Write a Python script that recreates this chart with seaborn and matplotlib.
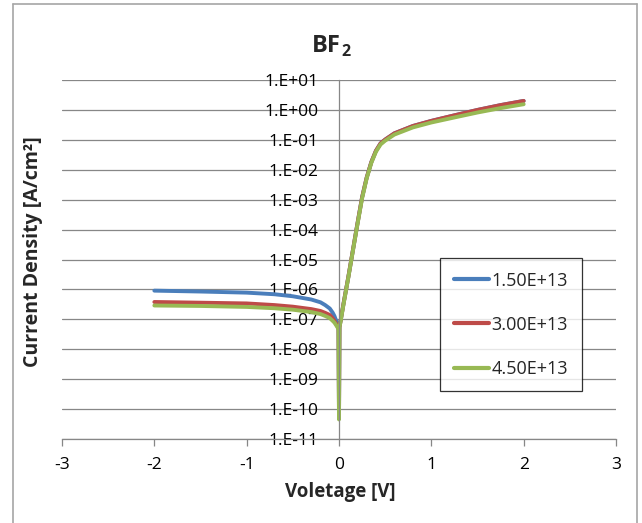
import matplotlib
matplotlib.use("Agg")
import matplotlib.pyplot as plt
import seaborn as sns
import pandas as pd
from matplotlib.ticker import FixedLocator, FixedFormatter, NullLocator
from matplotlib.lines import Line2D

# ---------------- data ----------------
voltage = [-2.0, -1.5, -1.0, -0.7, -0.5, -0.3, -0.2, -0.15, -0.1, -0.07, -0.05, -0.03, -0.015, -0.005,
           0.0, 0.005, 0.02, 0.05, 0.1, 0.15, 0.2, 0.25, 0.3, 0.35, 0.4, 0.45,
           0.5, 0.6, 0.8, 1.0, 1.25, 1.5, 1.75, 2.0]

j_150 = [9.1e-7, 8.5e-7, 7.8e-7, 6.9e-7, 5.9e-7, 4.6e-7, 3.7e-7, 3.0e-7, 2.3e-7, 1.7e-7, 1.3e-7, 9.0e-8, 6.5e-8, 5.0e-8,
         5.0e-11, 5.5e-8, 1.0e-7, 3.5e-7, 2.5e-6, 2.0e-5, 1.6e-4, 1.2e-3, 5.5e-3, 1.8e-2, 4.3e-2, 7.6e-2,
         1.02e-1, 1.65e-1, 2.9e-1, 4.3e-1, 6.6e-1, 1.0, 1.45, 2.0]

j_300 = [3.8e-7, 3.6e-7, 3.4e-7, 3.0e-7, 2.65e-7, 2.2e-7, 1.9e-7, 1.65e-7, 1.4e-7, 1.1e-7, 9.0e-8, 7.0e-8, 5.8e-8, 4.8e-8,
         5.0e-11, 5.5e-8, 1.0e-7, 3.5e-7, 2.5e-6, 2.0e-5, 1.6e-4, 1.2e-3, 5.5e-3, 1.8e-2, 4.3e-2, 7.6e-2,
         1.02e-1, 1.65e-1, 2.9e-1, 4.3e-1, 6.6e-1, 1.0, 1.45, 2.0]

j_450 = [2.9e-7, 2.8e-7, 2.6e-7, 2.35e-7, 2.1e-7, 1.75e-7, 1.5e-7, 1.3e-7, 1.1e-7, 9.0e-8, 7.8e-8, 6.3e-8, 5.3e-8, 4.5e-8,
         4.5e-11, 5.3e-8, 9.5e-8, 3.3e-7, 2.4e-6, 1.9e-5, 1.5e-4, 1.1e-3, 5.2e-3, 1.7e-2, 4.0e-2, 7.0e-2,
         9.4e-2, 1.5e-1, 2.6e-1, 3.8e-1, 5.6e-1, 0.82, 1.15, 1.55]

doses = ["1.50E+13", "3.00E+13", "4.50E+13"]
colors = ["#4A7EBB", "#BE4B48", "#98B954"]

y_ticks = [1e1, 1e0, 1e-1, 1e-2, 1e-3, 1e-4, 1e-5, 1e-6, 1e-7, 1e-8, 1e-9, 1e-10, 1e-11]
y_tick_labels = ["1.E+01", "1.E+00", "1.E-01", "1.E-02", "1.E-03", "1.E-04", "1.E-05",
                 "1.E-06", "1.E-07", "1.E-08", "1.E-09", "1.E-10", "1.E-11"]
x_ticks = [-3, -2, -1, 0, 1, 2, 3]
x_tick_labels = ["-3", "-2", "-1", "0", "1", "2", "3"]

# ---------------- build frame ----------------
frames = []
for name, vals in zip(doses, [j_150, j_300, j_450]):
    frames.append(pd.DataFrame({"V": voltage, "J": vals, "dose": name}))
df = pd.concat(frames, ignore_index=True)

sns.set_style("white")
plt.rcParams["font.family"] = ["Open Sans", "DejaVu Sans"]

W, H = 642, 523
fig = plt.figure(figsize=(W / 100, H / 100), dpi=100)
left, right, top, bottom = 62, 616, 80, 439
ax = fig.add_axes([left / W, 1 - bottom / H, (right - left) / W, (bottom - top) / H])

sns.lineplot(data=df, x="V", y="J", hue="dose", palette=colors, hue_order=doses,
             sort=False, estimator=None, linewidth=2.8, ax=ax, legend=True)

ax.set_yscale("log")
ax.set_xlim(-3, 3)
ax.set_ylim(1e-11, 1e1)

grid_c = "#878787"
ax.yaxis.set_major_locator(FixedLocator(y_ticks))
ax.yaxis.set_major_formatter(FixedFormatter(y_tick_labels))
ax.yaxis.set_minor_locator(NullLocator())
ax.xaxis.set_major_locator(FixedLocator(x_ticks))
ax.xaxis.set_major_formatter(FixedFormatter(x_tick_labels))
ax.grid(axis="y", color=grid_c, linewidth=0.9)
ax.grid(axis="x", visible=False)
ax.set_axisbelow(True)

for s in ["top", "right"]:
    ax.spines[s].set_visible(False)
ax.spines["left"].set_position(("data", 0))
ax.spines["left"].set_color(grid_c)
ax.spines["left"].set_linewidth(0.9)
ax.spines["bottom"].set_color(grid_c)
ax.spines["bottom"].set_linewidth(0.9)

ax.tick_params(axis="y", length=0, pad=15, labelsize=12.5, labelcolor="black")
ax.tick_params(axis="x", direction="out", length=5, width=0.9, color=grid_c,
               pad=8, labelsize=12.5, labelcolor="black", bottom=True)

ax.set_xlabel("Voletage [V]", fontsize=13.5, fontweight="bold", va="center")
ax.xaxis.set_label_coords((340 - left) / (right - left), -(492 - bottom) / (bottom - top))
ax.set_ylabel("Current Density [A/cm²]", fontsize=14, fontweight="bold", va="center")
ax.yaxis.set_label_coords(-(left - 33) / (right - left), 1 - (252 - top) / (bottom - top))

# title: "BF" with subscript "2"
fig.text(341 / W, 1 - 46 / H, "BF", fontsize=17, fontweight="bold", ha="right", va="center")
fig.text(341.5 / W, 1 - 52 / H, "2", fontsize=11.5, fontweight="bold", ha="left", va="center")

leg = ax.legend(loc="upper left", bbox_to_anchor=(440 / W, 1 - 258 / H),
                bbox_transform=fig.transFigure, frameon=True, fancybox=False,
                fontsize=13, handlelength=1.95, handletextpad=0.15,
                labelspacing=1.45, borderpad=0.75, borderaxespad=0)
leg.get_frame().set_edgecolor("black")
leg.get_frame().set_linewidth(0.9)
for line in leg.get_lines():
    line.set_linewidth(3.0)

# chart-area border
bc = "#A6A6A6"
fig.add_artist(Line2D([13 / W, 13 / W], [0, 1 - 4 / H], transform=fig.transFigure, color=bc, lw=1.2))
fig.add_artist(Line2D([13 / W, 637 / W], [1 - 4 / H, 1 - 4 / H], transform=fig.transFigure, color=bc, lw=1.2))
fig.add_artist(Line2D([637 / W, 637 / W], [0, 1 - 4 / H], transform=fig.transFigure, color=bc, lw=1.2))

fig.savefig("out.png", dpi=100)
